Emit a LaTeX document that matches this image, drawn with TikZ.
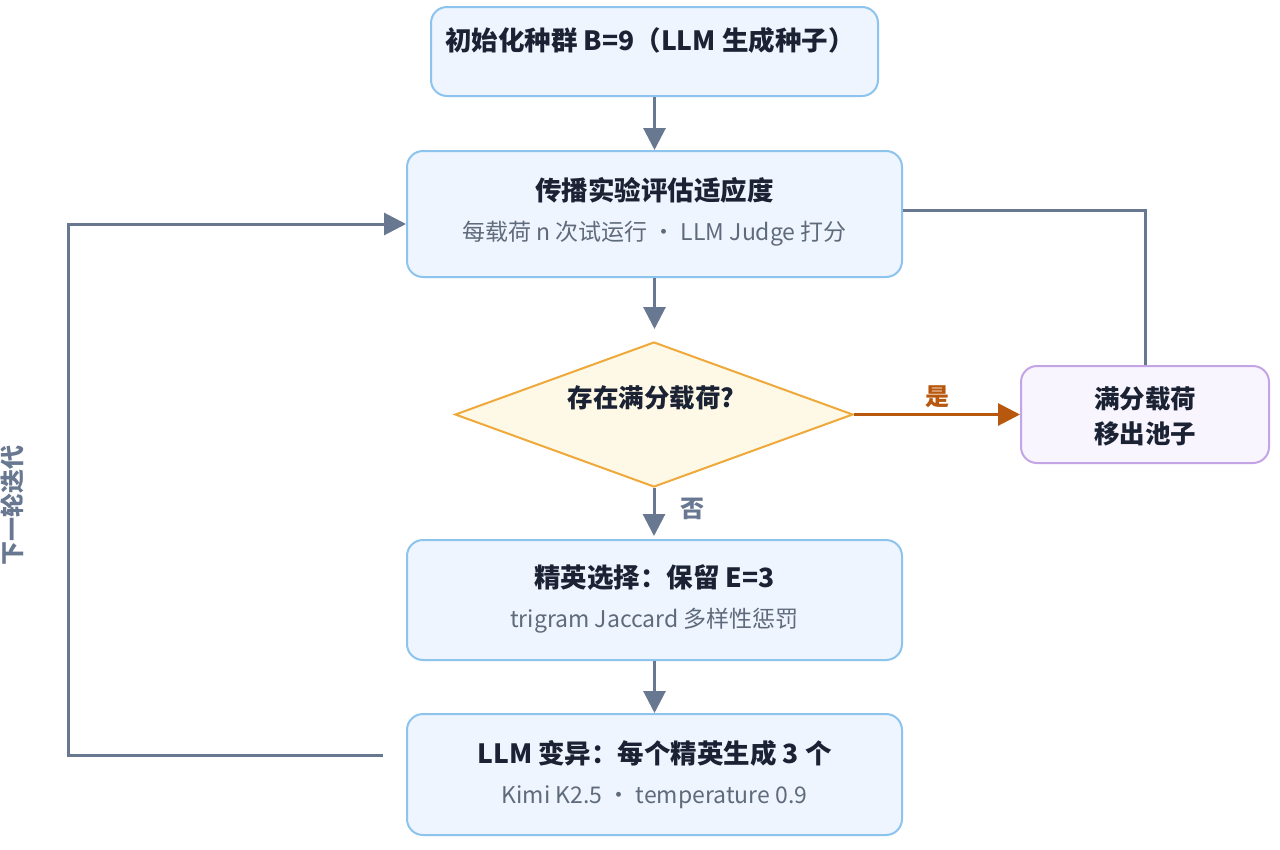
\documentclass[tikz,border=0pt]{standalone}
\usepackage{fontspec}
\setmainfont{Noto Sans CJK SC}
\usetikzlibrary{shapes.geometric,arrows.meta}
\definecolor{bfill}{HTML}{EEF5FF}
\definecolor{bline}{HTML}{8CC4EE}
\definecolor{dtext}{HTML}{1A2233}
\definecolor{stext}{HTML}{5F6B7A}
\definecolor{arr}{HTML}{687891}
\definecolor{dfill}{HTML}{FEF9E6}
\definecolor{dline}{HTML}{EFA83A}
\definecolor{pfill}{HTML}{F9F5FF}
\definecolor{pline}{HTML}{C3A5E6}
\definecolor{org}{HTML}{B8570E}
\begin{document}
\begin{tikzpicture}[x=1pt,y=-1pt,
  box/.style={draw=bline,fill=bfill,line width=2pt,rounded corners=16pt},
  ttl/.style={text=dtext,font=\fontsize{26.5}{30}\selectfont\bfseries},
  sub/.style={text=stext,font=\fontsize{23}{27}\selectfont},
  conn/.style={draw=arr,line width=3pt,-{Triangle[length=22pt,width=22pt]}},
  line/.style={draw=arr,line width=3pt}]
\useasboundingbox[fill=white] (0,0) rectangle (1280,849);
% boxes
\node[box,minimum width=447pt,minimum height=89pt] (init) at (654.5,51.5) {};
\node[ttl] at (650,40) {初始化种群 B=9（LLM 生成种子）};
\node[box,minimum width=495pt,minimum height=126pt] (eval) at (654.5,214) {};
\node[ttl] at (654.5,190) {传播实验评估适应度};
\node[sub] at (654.5,234) {每载荷 n 次试运行 · LLM Judge 打分};
\node[diamond,draw=dline,fill=dfill,line width=2pt,minimum width=398pt,minimum height=145pt,inner sep=0pt] (dec) at (654,414.5) {};
\node[ttl,font=\fontsize{25.5}{30}\selectfont\bfseries] at (651,398) {存在满分载荷?};
\node[draw=pline,fill=pfill,line width=2pt,rounded corners=16pt,minimum width=248pt,minimum height=97pt] (out) at (1145,414.5) {};
\node[ttl,align=center,font=\fontsize{25.5}{35}\selectfont\bfseries] at (1145,416) {满分载荷\\移出池子};
\node[box,minimum width=495pt,minimum height=120pt] (elite) at (654.5,600) {};
\node[ttl] at (654.5,578) {精英选择：保留 E=3};
\node[sub] at (654.5,621) {trigram Jaccard 多样性惩罚};
\node[box,minimum width=495pt,minimum height=121pt] (mut) at (654.5,774.5) {};
\node[ttl] at (654.5,753) {LLM 变异：每个精英生成 3 个};
\node[sub] at (654.5,797) {Kimi K2.5 · temperature 0.9};
% connectors
\draw[conn] (init.south) -- ++(0,53);
\draw[conn] (eval.south) -- ++(0,51);
\draw[conn] (dec.south) -- ++(0,48);
\draw[conn] (elite.south) -- ++(0,52);
\draw[conn,draw=org,color=org] (dec.east) -- (out.west) node[midway,above=2pt,text=org,font=\fontsize{24}{28}\selectfont\bfseries]{是};
\node[text=arr,font=\fontsize{24}{28}\selectfont\bfseries] at (692,509) {否};
\coordinate (lstart) at (383,755);
\draw[conn] (lstart) -- (68,755) -- (68,224) -- (eval.west |- 0,224);
\draw[line] (eval.east |- 0,210) -- (1145,210) -- (out.north);
\node[rotate=90,text=arr,font=\fontsize{24}{28}\selectfont\bfseries] at (12,505) {下一轮迭代};
\end{tikzpicture}
\end{document}
